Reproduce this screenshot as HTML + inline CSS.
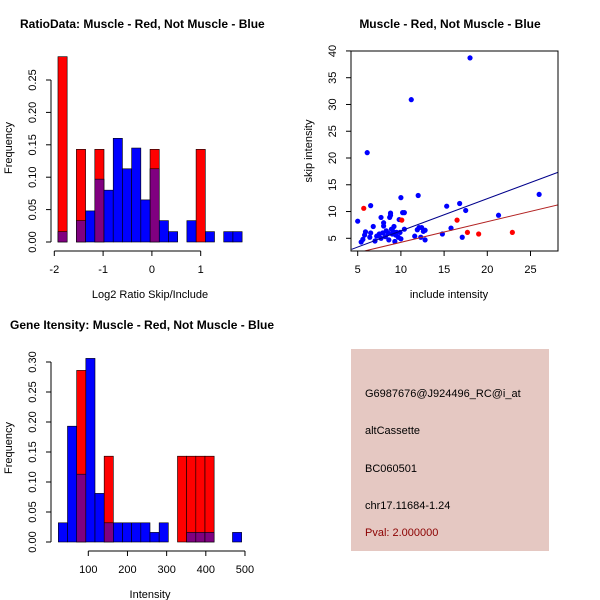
<!DOCTYPE html>
<html><head><meta charset="utf-8"><style>
body{margin:0;background:#fff}
svg{display:block;font-family:"Liberation Sans",sans-serif}
</style></head><body>
<svg id="c" width="600" height="600" viewBox="0 0 600 600">
<rect width="600" height="600" fill="#fff"/>
<rect x="351" y="349" width="198" height="202" fill="#e5c8c2"/>
<g font-size="11">
<text x="365" y="397" fill="#000">G6987676@J924496_RC@i_at</text>
<text x="365" y="434" fill="#000">altCassette</text>
<text x="365" y="472" fill="#000">BC060501</text>
<text x="365" y="509" fill="#000">chr17.11684-1.24</text>
<text x="365" y="536" fill="#8b0000">Pval: 2.000000</text>
</g>
</svg>
<script>
// ---- Plot 1: ratio histogram ----
const ratioRedBins=[0,2,4,10,15];
const ratioRedVals=[0.286,0.143,0.143,0.143,0.143];
const ratioBlueBins=[0,2,3,4,5,6,7,8,9,10,11,12,14,16,18,19];
const ratioBlueVals=[0.016,0.033,0.048,0.097,0.08,0.16,0.113,0.145,0.065,0.113,0.033,0.016,0.033,0.016,0.016,0.016];
const ratioXTicks=[-2,-1,0,1];
const ratioYTicks=[0,0.05,0.10,0.15,0.20,0.25];
// ---- Plot 2: scatter ----
const blueX=[5.0,5.4,5.6,5.8,5.9,6.1,6.5,6.4,6.5,6.8,7.0,7.2,7.5,7.7,7.7,7.9,8.0,8.0,8.2,8.3,8.5,8.6,8.7,8.8,8.8,8.9,9.0,9.1,9.2,9.3,9.4,9.5,9.7,9.8,9.9,10.0,10.0,10.2,10.4,10.4,11.2,11.6,11.9,12.0,12.1,12.3,12.4,12.6,12.8,12.8,14.8,15.3,15.8,16.8,17.1,17.5,18.0,21.3,26.0];
const blueY=[8.2,4.3,4.8,5.6,6.2,21,11.1,5.2,6.0,7.2,4.5,5.4,5.8,8.9,5.0,6.0,7.3,7.9,5.3,6.4,6.0,4.7,8.9,9.3,9.7,6.7,5.8,6.3,7.2,4.4,5.6,6.1,5.2,8.5,6.1,4.9,12.6,9.8,9.8,6.7,30.9,5.4,6.6,13.0,7.0,5.2,7.0,6.3,6.5,4.7,5.8,11.0,6.9,11.5,5.2,10.2,38.7,9.3,13.2];
const redX=[5.7,10.1,16.5,17.7,19.0,22.9];
const redY=[10.6,8.4,8.4,6.1,5.8,6.1];
const blueFit=[0.36,0.602];
const redFit=[0.4,0.385];
const scatXTicks=[5,10,15,20,25];
const scatYTicks=[5,10,15,20,25,30,35,40];
// ---- Plot 3: intensity histogram ----
const intRedBins=[2,5,13,14,15,16];
const intRedVals=[0.286,0.143,0.143,0.143,0.143,0.143];
const intBlueBins=[0,1,2,3,4,5,6,7,8,9,10,11,14,15,16,19];
const intBlueVals=[0.032,0.193,0.113,0.306,0.081,0.032,0.032,0.032,0.032,0.032,0.016,0.032,0.016,0.016,0.016,0.016];
const intXTicks=[100,200,300,400,500];
const intYTicks=[0,0.05,0.10,0.15,0.20,0.25,0.30];

const svg=document.getElementById('c');
const NS='http://www.w3.org/2000/svg';
function mk(tag,attrs,parent){const e=document.createElementNS(NS,tag);for(const k in attrs)e.setAttribute(k,attrs[k]);(parent||svg).appendChild(e);return e;}
function txt(x,y,s,attrs,parent){const e=mk('text',Object.assign({x:x,y:y},attrs||{}),parent);e.textContent=s;return e;}

function histogram(o){
  const g=mk('g',{});
  
  
  const x=v=>o.x0px+(v-o.x0)*o.xs;
  const y=v=>o.y0px-v*o.ys;
  const binL=i=>x(o.start+i*o.w);
  const red={},blue={};
  o.rb.forEach((b,i)=>red[b]=o.rv[i]);
  o.bb.forEach((b,i)=>blue[b]=o.bv[i]);
  const all=new Set([...o.rb,...o.bb]);
  all.forEach(b=>{
    const L=binL(b),W=binL(b+1)-L;
    const r=red[b]||0,bl=blue[b]||0;
    const top=Math.max(r,bl),mn=Math.min(r,bl);
    const e=mk('rect',{x:L,y:y(top),width:W,height:y(0)-y(top),fill:r>=bl?'#ff0000':'#0000ff',stroke:'#000','stroke-width':0.6},g);
    
    
    if(mn>0){
      const p=mk('rect',{x:L,y:y(mn),width:W,height:y(0)-y(mn),fill:'#800080',stroke:'#000','stroke-width':0.6},g);
      
      
    }
  });
  const ya=mk('g',{stroke:'#000','stroke-width':1},g);
  
  
  const yt=o.yt;
  mk('line',{x1:o.yax,x2:o.yax,y1:y(yt[0]),y2:y(yt[yt.length-1])},ya);
  yt.forEach(v=>{
    mk('line',{x1:o.yax,x2:o.yax-5,y1:y(v),y2:y(v)},ya);
    const t=txt(o.yax-15,y(v),v.toFixed(2),{'font-size':11,'text-anchor':'middle',transform:`rotate(-90 ${o.yax-15} ${y(v)})`,fill:'#000',stroke:'none'},ya);
    
    
  });
  const xa=mk('g',{stroke:'#000','stroke-width':1},g);
  
  
  const xt=o.xt;
  mk('line',{x1:x(xt[0]),x2:x(xt[xt.length-1]),y1:o.xay,y2:o.xay},xa);
  xt.forEach(v=>{
    mk('line',{x1:x(v),x2:x(v),y1:o.xay,y2:o.xay+5},xa);
    const t=txt(x(v),o.xay+22,String(v),{'font-size':11,'text-anchor':'middle',fill:'#000',stroke:'none'},xa);
    
    
  });
  const tt=txt(o.titleX,o.titleY,o.title,{'font-size':12,'font-weight':'bold',fill:'#000'});
  
  
  const xl=txt(o.xlabX,o.xlabY,o.xlab,{'font-size':11,'text-anchor':'middle',fill:'#000'});
  
  
  const yl=txt(12,o.ylabY,'Frequency',{'font-size':11,'text-anchor':'middle',transform:`rotate(-90 12 ${o.ylabY})`,fill:'#000'});
  
  
}

histogram({name:'ratio-histogram',x0:-2,x0px:54.3,xs:48.8,y0px:242,ys:648,start:-1.925,w:0.1887,
  rb:ratioRedBins,rv:ratioRedVals,bb:ratioBlueBins,bv:ratioBlueVals,xt:ratioXTicks,yt:ratioYTicks,
  yax:51,xay:251,title:'RatioData: Muscle - Red, Not Muscle - Blue',titleX:20,titleY:28,
  xlab:'Log2 Ratio Skip/Include',xlabX:150,xlabY:298,ylabY:148});

histogram({name:'intensity-histogram',x0:100,x0px:88.3,xs:0.3917,y0px:542,ys:600,start:23.5,w:23.4,
  rb:intRedBins,rv:intRedVals,bb:intBlueBins,bv:intBlueVals,xt:intXTicks,yt:intYTicks,
  yax:51,xay:551,title:'Gene Itensity: Muscle - Red, Not Muscle - Blue',titleX:10,titleY:329,
  xlab:'Intensity',xlabX:150,xlabY:598,ylabY:448});

(function(){
  const g=mk('g',{});
  
  
  const L=351,R=558,T=51,B=251;
  const x=v=>357.7+(v-5)*8.64;
  const y=v=>238.3-(v-5)*5.353;
  const cp=mk('clipPath',{id:'sc'},g);mk('rect',{x:L,y:T,width:R-L,height:B-T},cp);
  const pts=mk('g',{'clip-path':'url(#sc)'},g);
  blueX.forEach((v,i)=>{const c=mk('circle',{cx:x(v),cy:y(blueY[i]),r:2.6,fill:'#0000ff'},pts);
    
    });
  redX.forEach((v,i)=>{const c=mk('circle',{cx:x(v),cy:y(redY[i]),r:2.6,fill:'#ff0000'},pts);
    
    });
  const xa=4.3,xb=28.3;
  const bl=mk('line',{x1:x(xa),y1:y(blueFit[0]+blueFit[1]*xa),x2:x(xb),y2:y(blueFit[0]+blueFit[1]*xb),stroke:'#00008b','stroke-width':1},pts);
  
  
  const rl=mk('line',{x1:x(xa),y1:y(redFit[0]+redFit[1]*xa),x2:x(xb),y2:y(redFit[0]+redFit[1]*xb),stroke:'#b22222','stroke-width':1},pts);
  
  
  const box=mk('rect',{x:L,y:T,width:R-L,height:B-T,fill:'none',stroke:'#000','stroke-width':1},g);
  
  
  scatXTicks.forEach(v=>{mk('line',{x1:x(v),x2:x(v),y1:B,y2:B+5,stroke:'#000'},g);
    const t=txt(x(v),B+22,String(v),{'font-size':11,'text-anchor':'middle'},g);
    
    });
  scatYTicks.forEach(v=>{mk('line',{x1:L,x2:L-5,y1:y(v),y2:y(v),stroke:'#000'},g);
    const t=txt(L-15,y(v),String(v),{'font-size':11,'text-anchor':'middle',transform:`rotate(-90 ${L-15} ${y(v)})`},g);
    
    });
  const tt=txt(450,28,'Muscle - Red, Not Muscle - Blue',{'font-size':12,'font-weight':'bold','text-anchor':'middle'});
  
  
  const xl=txt(449,298,'include intensity',{'font-size':11,'text-anchor':'middle'});
  
  
  const yl=txt(312,151,'skip intensity',{'font-size':11,'text-anchor':'middle',transform:'rotate(-90 312 151)'});
  
  
})();
</script>
</body></html>
